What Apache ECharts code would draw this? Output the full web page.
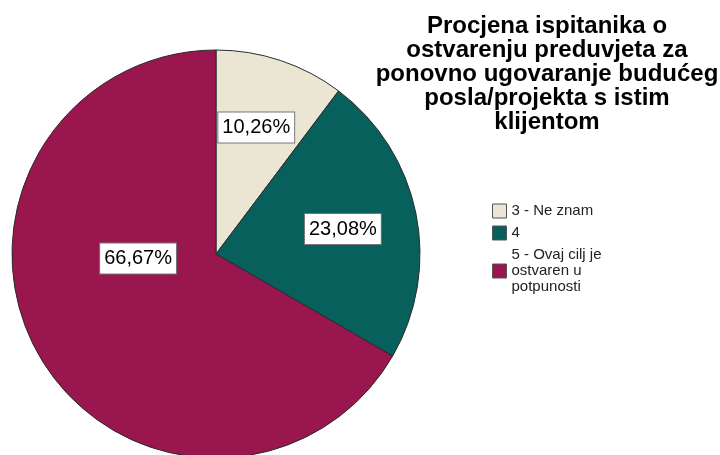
<!DOCTYPE html>
<html>
<head>
<meta charset="utf-8">
<script src="https://cdn.jsdelivr.net/npm/echarts@6/dist/echarts.min.js"></script>
<style>
html, body { margin: 0; padding: 0; background: #fff; }
#chart { width: 720px; height: 455px; }
</style>
</head>
<body>
<div id="chart"></div>
<script>
var categories = ['3 - Ne znam', '4', '5 - Ovaj cilj je\nostvaren u\npotpunosti'];
var values = [10.26, 23.08, 66.67];
var colors = ['#ebe5d3', '#07605b', '#99164f'];
// nudges so the labels sit where SPSS put them
var labelShift = [[7, -27], [24, -4], [13, -48]];

var chart = echarts.init(document.getElementById('chart'));
var option = {
	animation: false,
	title: {
		text: 'Procjena ispitanika o\nostvarenju preduvjeta za\nponovno ugovaranje budućeg\nposla/projekta s istim\nklijentom',
		left: 542,
		top: 9,
		textAlign: 'center',
		textStyle: {
			fontFamily: 'Liberation Sans',
			fontWeight: 'bold',
			fontSize: 24,
			lineHeight: 24,
			color: '#000'
		}
	},
	legend: {
		orient: 'vertical',
		left: 487,
		top: 198,
		itemWidth: 14,
		itemHeight: 14,
		itemGap: 6,
		icon: 'rect',
		data: categories,
		textStyle: {
			fontFamily: 'Liberation Sans',
			fontSize: 15,
			lineHeight: 16,
			color: '#222'
		},
		itemStyle: { borderColor: '#555', borderWidth: 1 }
	},
	series: [{
		type: 'pie',
		center: [216, 254],
		radius: 204,
		startAngle: 90,
		clockwise: true,
		avoidLabelOverlap: false,
		itemStyle: { borderColor: '#2a2a2a', borderWidth: 1 },
		label: {
			show: true,
			position: 'inside',
			formatter: function (p) { return p.value.toFixed(2).replace('.', ',') + '%'; },
			fontFamily: 'Liberation Sans',
			fontSize: 20,
			color: '#000',
			backgroundColor: '#fff',
			borderColor: '#777',
			borderWidth: 1,
			padding: [6, 4, 4, 4]
		},
		labelLayout: function (p) {
			var s = labelShift[p.dataIndex];
			return { dx: s[0], dy: s[1] };
		},
		labelLine: { show: false },
		emphasis: { disabled: true },
		data: categories.map(function (c, i) {
			return { name: c, value: values[i], itemStyle: { color: colors[i] } };
		})
	}]
};
chart.setOption(option);
</script>
</body>
</html>
